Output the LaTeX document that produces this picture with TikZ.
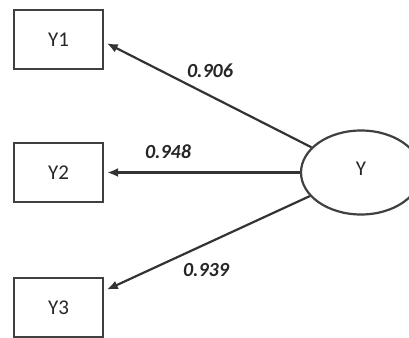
\documentclass[tikz,border=0pt]{standalone}
\usepackage{fontspec}
\setmainfont{Carlito}
\usetikzlibrary{arrows.meta,shapes.geometric}

\begin{document}
\begin{tikzpicture}[x=1pt,y=-1pt,
        every node/.style={font=\fontsize{21}{24}\selectfont,text=black!85},
        item/.style={draw=black!75,line width=2.2pt,minimum width=89pt,minimum height=59pt,inner sep=0pt},
        factor/.style={draw=black!75,line width=2.2pt,ellipse,minimum width=120pt,minimum height=84pt,inner sep=0pt},
        loading/.style={font=\fontsize{20}{24}\selectfont\bfseries\itshape},
        loadarrow/.style={draw=black!80,line width=2.2pt,-{Latex[length=11pt,width=9pt]},shorten >=3pt}]

    \useasboundingbox (0,0) rectangle (409,337);
    \clip (0,0) rectangle (409,337);

    % indicators
    \node [item] (Y1) at (58.5,39.5)  {Y1};
    \node [item] (Y2) at (58.5,172.5) {Y2};
    \node [item] (Y3) at (58.5,307.5) {Y3};

    % latent variable
    \node [factor] (Y) at (361,172.5) {};
    \node (Ylabel) at (361,169) {Y};

    \draw [loadarrow] (Y) -- (Y1.-3);
    \draw [loadarrow] (Y) -- (Y2.east);
    \draw [loadarrow] (Y) -- (Y3.20);

    % loadings
    \node [loading] (L1) at (210,71)  {0.906};
    \node [loading] (L2) at (168,152) {0.948};
    \node [loading] (L3) at (206,270) {0.939};

\end{tikzpicture}
\end{document}
